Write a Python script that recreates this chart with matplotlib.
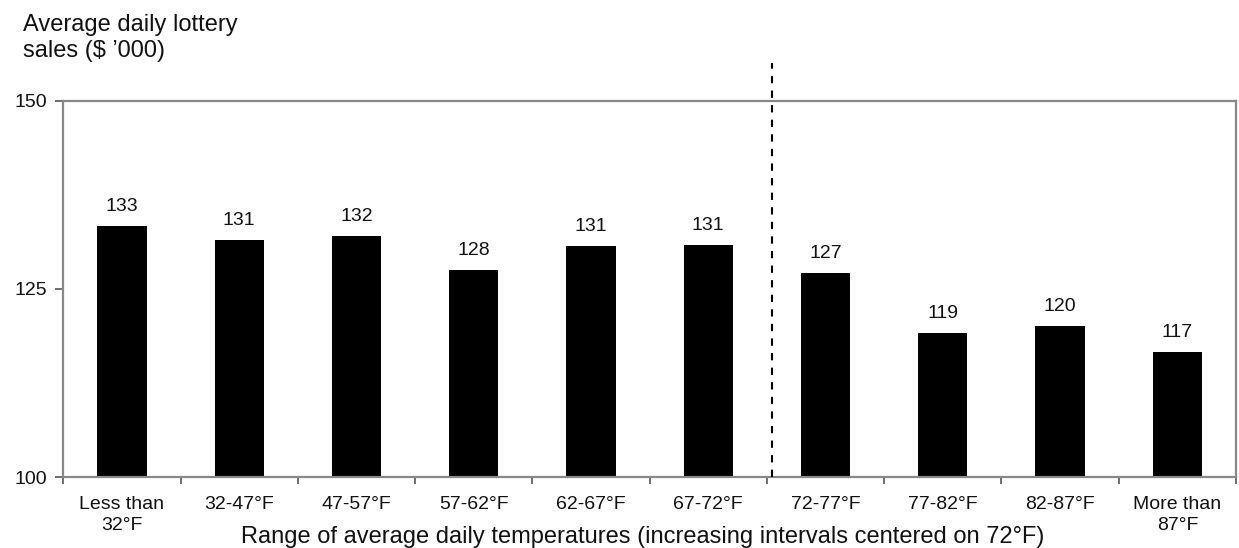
import matplotlib
matplotlib.use("Agg")
import matplotlib.pyplot as plt
import matplotlib.transforms as mtransforms
import numpy as np

plt.rcParams['font.family'] = ['Liberation Sans', 'DejaVu Sans']

categories = ["Less than\n32°F", "32-47°F", "47-57°F", "57-62°F", "62-67°F",
              "67-72°F", "72-77°F", "77-82°F", "82-87°F", "More than\n87°F"]
sales = [133.4, 131.45, 132.05, 127.55, 130.7, 130.85, 127.05, 119.15, 120.1, 116.65]
y_ticks = [100, 125, 150]

W, H = 1239, 548
fig = plt.figure(figsize=(W / 100, H / 100), dpi=100)
ax = fig.add_axes([63.3 / W, 1 - 477 / H, (1236 - 63.3) / W, (477 - 100.7) / H])

x = np.arange(len(categories))
ax.bar(x, [v - 100 for v in sales], bottom=100, width=0.42, color='black', zorder=2)

for xi, v in zip(x, sales):
    ax.annotate(f"{v:.0f}", xy=(xi, v), xytext=(0, 10.8), textcoords='offset points',
                ha='center', va='baseline', fontsize=14, color='#111111')

ax.set_xlim(-0.5, len(categories) - 0.5)
ax.set_ylim(100, 150)
ax.set_yticks(y_ticks)
ax.set_yticklabels([str(t) for t in y_ticks], fontsize=14, color='#111111')

# category boundaries carry the ticks, labels sit at the centres
ax.set_xticks(np.arange(-0.5, len(categories), 1.0))
ax.set_xticklabels([])
ax.set_xticks(x, minor=True)
ax.set_xticklabels(categories, minor=True, fontsize=14, color='#111111', linespacing=1.25)
ax.tick_params(axis='x', which='major', length=5, width=1.2, color='#555555', direction='out')
ax.tick_params(axis='x', which='minor', length=0, pad=14)
ax.tick_params(axis='y', length=6, width=1.2, color='#555555', pad=6)

for s in ax.spines.values():
    s.set_color('#888888')
    s.set_linewidth(1.6)

# divider between the cooler and warmer ranges, extending above the frame
trans = mtransforms.blended_transform_factory(ax.transData, ax.transAxes)
ax.plot([5.54, 5.54], [0, 1.10], transform=trans, color='black', lw=1.5,
        linestyle=(0, (3.5, 3.5)), clip_on=False, zorder=3)

fig.text(23 / W, 1 - 14 / H, "Average daily lottery\nsales ($ \u2019000)", ha='left', va='top',
         fontsize=17, linespacing=1.22, color='#111111')
fig.text(643 / W, 1 - 537 / H,
         "Range of average daily temperatures (increasing intervals centered on 72°F)",
         ha='center', va='center', fontsize=17, color='#111111')

fig.savefig("out.png", dpi=100)
